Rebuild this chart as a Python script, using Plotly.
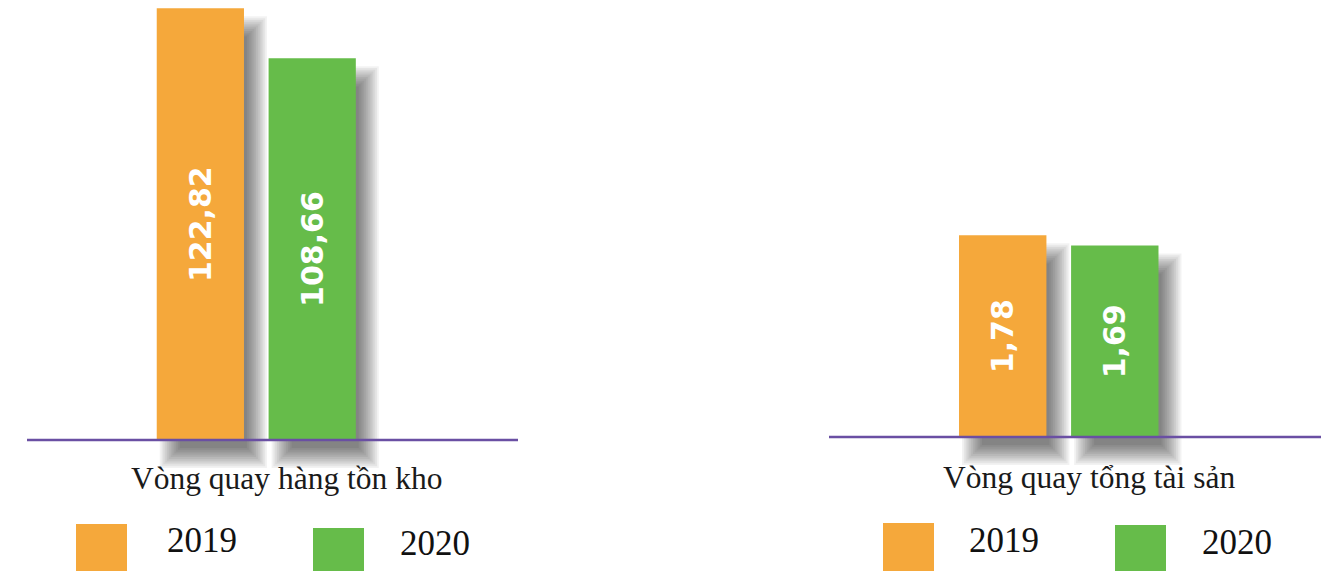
import plotly.graph_objects as go

# ---------------- data ----------------
years = ["2019", "2020"]
categories = ["Vòng quay hàng tồn kho", "Vòng quay tổng tài sản"]
inventory_turnover = [122.82, 108.66]
asset_turnover = [1.78, 1.69]
series = [inventory_turnover, asset_turnover]

colors = ["#F5A83B", "#66BC4A"]
line_color = "#6A4FA3"

W, H = 1323, 571
x_domains = [[27 / W, 518 / W], [829 / W, 1321 / W]]
y_domain = [1 - 490 / H, 1]
x_range = [-1.55, 2.84]
y_ranges = [[-14.23, 125.2], [-0.4678, 3.857]]
bar_w = 0.78

fig = go.Figure()
shapes = []
annotations = []

sh_dx, sh_dy, blur, n_layers = 13, 18, 10, 12

for p, vals in enumerate(series):
    xa = "x" if p == 0 else "x2"
    ya = "y" if p == 0 else "y2"
    xs = list(range(len(years)))
    dom_w = (x_domains[p][1] - x_domains[p][0]) * W
    dom_h = (y_domain[1] - y_domain[0]) * H
    ux = (x_range[1] - x_range[0]) / dom_w
    uy = (y_ranges[p][1] - y_ranges[p][0]) / dom_h
    # soft shadows: stacked translucent bars drawn behind the real bars
    for k in range(n_layers):
        e = blur - 2 * blur * k / (n_layers - 1)
        fig.add_trace(go.Bar(
            x=[xi + sh_dx * ux for xi in xs],
            y=[v + 2 * e * uy for v in vals],
            base=[-(sh_dy + e) * uy] * len(vals),
            width=bar_w + 2 * e * ux, xaxis=xa, yaxis=ya,
            marker=dict(color="rgba(0,0,0,0.05)", line=dict(width=0)),
            showlegend=False, hoverinfo="skip"))
    # baseline
    shapes.append(dict(type="line", xref=xa + " domain", yref=ya, layer="above",
                       x0=0, x1=1, y0=0, y1=0,
                       line=dict(color=line_color, width=2.5)))
    for i, yr in enumerate(years):
        fig.add_trace(go.Bar(
            x=[xs[i]], y=[vals[i]], width=bar_w, xaxis=xa, yaxis=ya,
            marker=dict(color=colors[i], line=dict(width=0)),
            text=[f"{vals[i]:.2f}".replace(".", ",")],
            textposition="inside", insidetextanchor="middle", textangle=-90,
            textfont=dict(family="DejaVu Sans", size=30, color="white", weight="bold"),
            showlegend=False, hoverinfo="skip"))

# category labels
cat_pos = [(286.5, 478), (1089, 477)]
for (cx, cy), c in zip(cat_pos, categories):
    annotations.append(dict(text=c, x=cx / W, y=1 - cy / H, xref="paper", yref="paper",
                            showarrow=False, xanchor="center", yanchor="middle",
                            font=dict(family="Liberation Serif", size=31.5, color="#1a1a1a")))

# legends (one per panel)
legend_items = [
    # (square x0, square top, label center x, label center y, colour index)
    (76, 524, 202, 540, 0), (313, 528, 435, 543, 1),
    (883, 523, 1004, 540, 0), (1115, 525, 1237, 542, 1),
]
for sx, sy, lx, ly, ci in legend_items:
    shapes.append(dict(type="rect", xref="paper", yref="paper",
                       x0=sx / W, x1=(sx + 51) / W, y0=1 - (sy + 60) / H, y1=1 - sy / H,
                       fillcolor=colors[ci], line=dict(width=0)))
    annotations.append(dict(text=years[ci], x=lx / W, y=1 - ly / H, xref="paper", yref="paper",
                            showarrow=False, xanchor="center", yanchor="middle",
                            font=dict(family="Liberation Serif", size=35, color="#111111")))

axis_common = dict(showgrid=False, zeroline=False, showticklabels=False, showline=False, ticks="")
fig.update_layout(
    width=W, height=H, margin=dict(l=0, r=0, t=0, b=0),
    paper_bgcolor="white", plot_bgcolor="rgba(0,0,0,0)",
    barmode="overlay", shapes=shapes, annotations=annotations,
    xaxis=dict(domain=x_domains[0], range=x_range, anchor="y", **axis_common),
    yaxis=dict(domain=y_domain, range=y_ranges[0], anchor="x", **axis_common),
    xaxis2=dict(domain=x_domains[1], range=x_range, anchor="y2", **axis_common),
    yaxis2=dict(domain=y_domain, range=y_ranges[1], anchor="x2", **axis_common),
)

fig.write_html("out.html", config={"displayModeBar": False},
               post_script="document.body.style.margin='0';document.body.style.overflow='hidden';")
